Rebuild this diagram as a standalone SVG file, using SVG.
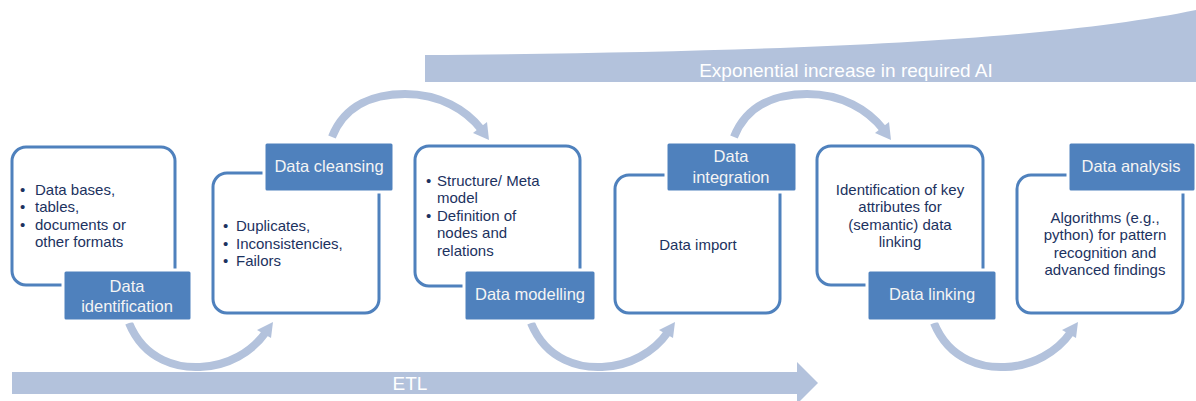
<svg xmlns="http://www.w3.org/2000/svg" width="1196" height="401" viewBox="0 0 1196 401">
<style>
.band{fill:#b3c2dc}
.outline{fill:#fff;stroke:#4f81bd;stroke-width:3}
.label{fill:#4f81bd;stroke:#fff;stroke-width:3}
.lt{font-family:"Liberation Sans",Arial,sans-serif;font-size:16.5px;fill:#f4f4f4;text-anchor:middle}
.bt{font-family:"Liberation Sans",Arial,sans-serif;font-size:15px;fill:#1c3260}
.ct{font-family:"Liberation Sans",Arial,sans-serif;font-size:15px;fill:#1c3260;text-anchor:middle}
.arc{fill:none;stroke:#b3c2dc;stroke-width:8}
.head{fill:#b3c2dc}
.bandtext{font-family:"Liberation Sans",Arial,sans-serif;font-size:19px;fill:#ffffff;text-anchor:middle}
</style>
<defs>
<g id="arcDown">
<path class="arc" d="M129,323 C145,362 180,368 200,367 C228,366 252,352 266,332"/>
<polygon class="head" points="273,322 257,330 271,338"/>
</g>
<g id="arcUp">
<path class="arc" d="M332,137 C345,104 375,94 405,94 C440,94 466,110 481,129"/>
<polygon class="head" points="489,140 473,133 487,122"/>
</g>
</defs>
<g id="bands">
<path class="band" d="M425,55 C800,52 1050,40 1196,10 L1196,82 L425,82 Z"/>
<text class="bandtext" x="846" y="77">Exponential increase in required AI</text>
<path class="band" d="M12,372 L797,372 L797,362 L818,383 L797,404 L797,394 L12,394 Z"/>
<text class="bandtext" x="410" y="390">ETL</text>
</g>
<g id="connectors">
<use href="#arcDown"/>
<use href="#arcDown" x="402"/>
<use href="#arcDown" x="805"/>
<use href="#arcUp"/>
<use href="#arcUp" x="402"/>
</g>
<g id="node-identification">
<rect class="outline" x="12" y="147" width="163" height="138" rx="14"/>
<text class="bt"><tspan x="20" y="195">•</tspan><tspan x="35" y="195">Data bases,</tspan><tspan x="20" y="212">•</tspan><tspan x="35" y="212">tables,</tspan><tspan x="20" y="230">•</tspan><tspan x="35" y="230">documents or</tspan><tspan x="35" y="247">other formats</tspan></text>
<rect class="label" x="63" y="270" width="129" height="51" rx="3"/>
<text class="lt"><tspan x="127" y="292">Data</tspan><tspan x="127" y="312">identification</tspan></text>
</g>
<g id="node-cleansing">
<rect class="outline" x="213" y="173" width="166" height="140" rx="14"/>
<text class="bt"><tspan x="223" y="231">•</tspan><tspan x="236" y="231">Duplicates,</tspan><tspan x="223" y="249">•</tspan><tspan x="236" y="249">Inconsistencies,</tspan><tspan x="223" y="266">•</tspan><tspan x="236" y="266">Failors</tspan></text>
<rect class="label" x="264" y="142" width="130" height="50" rx="3"/>
<text class="lt" x="329" y="172">Data cleansing</text>
</g>
<g id="node-modelling">
<rect class="outline" x="415" y="146" width="165" height="140" rx="14"/>
<text class="bt"><tspan x="426" y="186">•</tspan><tspan x="437" y="186">Structure/ Meta</tspan><tspan x="437" y="203">model</tspan><tspan x="426" y="221">•</tspan><tspan x="437" y="221">Definition of</tspan><tspan x="437" y="238">nodes and</tspan><tspan x="437" y="256">relations</tspan></text>
<rect class="label" x="464" y="270" width="132" height="51" rx="3"/>
<text class="lt" x="530" y="300">Data modelling</text>
</g>
<g id="node-integration">
<rect class="outline" x="615" y="175" width="165" height="138" rx="14"/>
<text class="ct" x="698" y="250">Data import</text>
<rect class="label" x="666" y="142" width="131" height="50" rx="3"/>
<text class="lt"><tspan x="731" y="162">Data</tspan><tspan x="731" y="183">integration</tspan></text>
</g>
<g id="node-linking">
<rect class="outline" x="817" y="146" width="166" height="139" rx="14"/>
<text class="ct"><tspan x="900" y="195">Identification of key</tspan><tspan x="900" y="212">attributes for</tspan><tspan x="900" y="230">(semantic) data</tspan><tspan x="900" y="247">linking</tspan></text>
<rect class="label" x="867" y="270" width="130" height="51" rx="3"/>
<text class="lt" x="932" y="300">Data linking</text>
</g>
<g id="node-analysis">
<rect class="outline" x="1017" y="175" width="166" height="138" rx="14"/>
<text class="ct"><tspan x="1105" y="223">Algorithms (e.g.,</tspan><tspan x="1105" y="240">python) for pattern</tspan><tspan x="1105" y="258">recognition and</tspan><tspan x="1105" y="275">advanced findings</tspan></text>
<rect class="label" x="1068" y="142" width="128" height="50" rx="3"/>
<text class="lt" x="1131" y="172">Data analysis</text>
</g>
</svg>
